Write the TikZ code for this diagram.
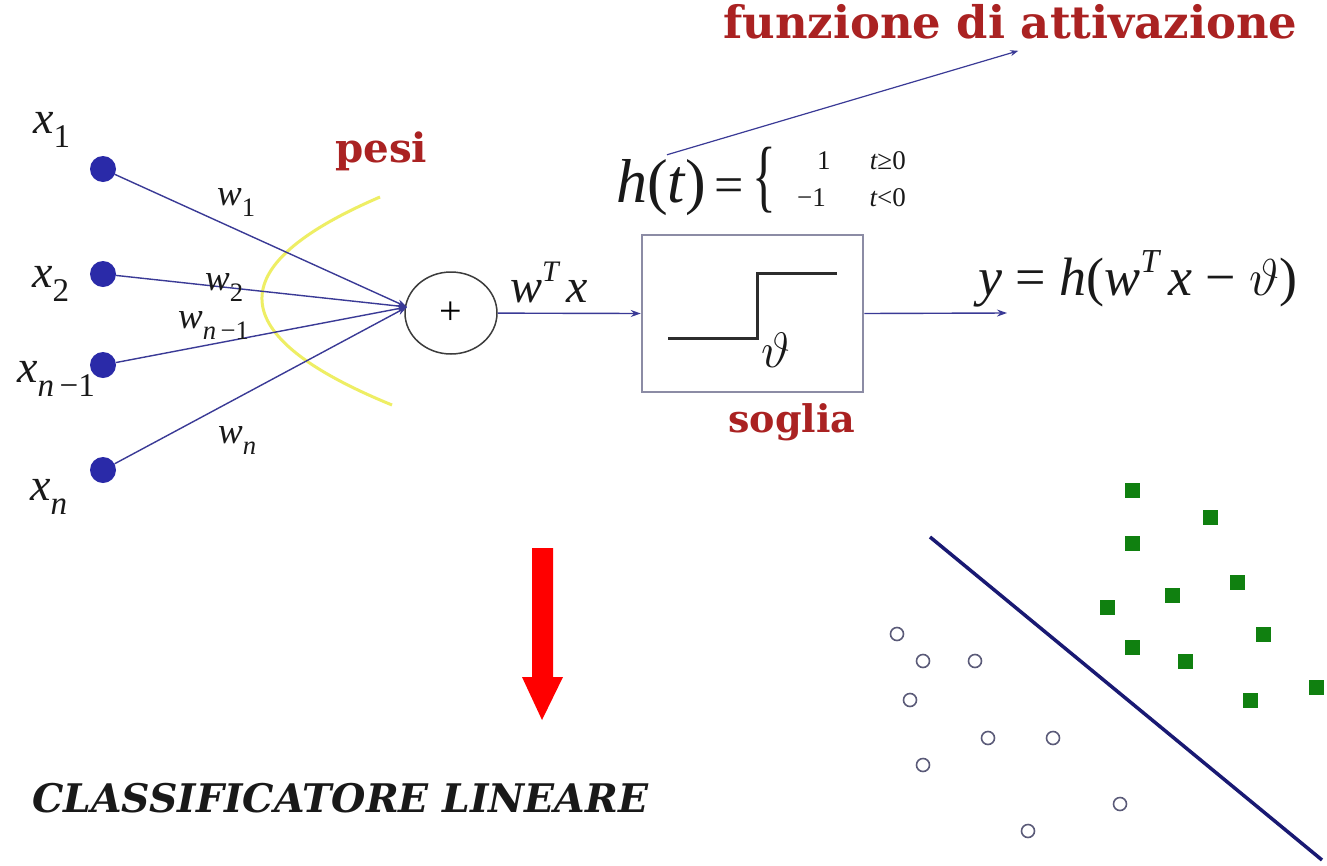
\documentclass[tikz,border=0pt]{standalone}
\usepackage{fontspec}
\setmainfont{Liberation Serif}
\newfontfamily\slab{DejaVu Serif}
\usepackage{graphicx}
\usetikzlibrary{arrows.meta,shapes.geometric}
\definecolor{lbl}{RGB}{170,34,34}
\definecolor{wire}{RGB}{58,58,150}
\definecolor{boxc}{RGB}{140,140,165}
\definecolor{stepc}{RGB}{45,45,45}
\definecolor{dotc}{RGB}{42,42,168}
\definecolor{sqc}{RGB}{16,128,16}
\definecolor{circc}{RGB}{90,90,120}
\definecolor{sepc}{RGB}{25,25,115}
\definecolor{yel}{RGB}{238,238,100}
\definecolor{ink}{RGB}{25,25,25}
\newcommand\fs[1]{\fontsize{#1}{#1}\selectfont}
\newcommand\dn[2][0.32em]{\raisebox{-#1}{\scalebox{0.72}{#2}}}
\newcommand\upp[1]{\raisebox{0.42em}{\scalebox{0.62}{#1}}}
\newcommand\bigtheta[1]{\scalebox{#1}{\fs{20}$\vartheta$}}
\tikzset{
  inp/.style={circle,fill=dotc,minimum size=26pt,inner sep=0pt},
  lab/.style={anchor=base west,inner sep=0pt,text=ink},
  redlab/.style={anchor=base west,inner sep=0pt,text=lbl},
  conn/.style={draw=wire,line width=1.4pt,-{Stealth[length=10pt,width=7pt]}},
  sq/.style={rectangle,fill=sqc,minimum size=15pt,inner sep=0pt},
  oc/.style={circle,draw=circc,line width=1.6pt,minimum size=13pt,inner sep=0pt},
}
\begin{document}
\begin{tikzpicture}[x=1pt,y=-1pt]
\fill[white] (0,0) rectangle (1327,865);
\useasboundingbox (0,0) rectangle (1327,865);

% yellow "pesi" curve
\draw[yel,line width=3pt] (380,197) .. controls (218.7,266.3) and (222.7,335.7) .. (392,405);

% inputs
\node[inp] (i1) at (103,169) {};
\node[inp] (i2) at (103,274) {};
\node[inp] (i3) at (103,365) {};
\node[inp] (i4) at (103,470) {};
\node[lab] (lx1) at (33,133) {\fs{46}\itshape x\dn{\upshape 1}};
\node[lab] (lx2) at (32,287) {\fs{46}\itshape x\dn{\upshape 2}};
\node[lab] (lx3) at (17,382) {\fs{46}\itshape x\dn{n\upshape\,−1}};
\node[lab] (lx4) at (30,500) {\fs{46}\itshape x\dn{n}};

% sum node
\node[ellipse,draw=ink!85,line width=1.5pt,minimum width=92pt,minimum height=82pt,inner sep=0pt] (sum) at (451,313) {\fs{40}+};
\coordinate (conv) at (407,307);
\draw[conn] (i1) -- (conv);
\draw[conn] (i2) -- (conv);
\draw[conn] (i3) -- (conv);
\draw[conn] (i4) -- (conv);

% weights
\node[lab] (w1) at (217,205) {\fs{37}\itshape w\dn{\upshape 1}};
\node[lab] (w2) at (205,290) {\fs{37}\itshape w\dn{\upshape 2}};
\node[lab] (w3) at (178,328) {\fs{37}\itshape w\dn{n\upshape\,−1}};
\node[lab] (w4) at (218,443) {\fs{37}\itshape w\dn{n}};
\node[redlab] (pesi) at (335,162) {\resizebox{92pt}{!}{\slab\bfseries pesi}};

% w^T x
\node[lab] (wtx) at (510,302) {\fs{48}\itshape w\upp{T}\,x};

% threshold box
\node[draw=boxc,line width=2.5pt,minimum width=221pt,minimum height=157pt,inner sep=0pt] (box) at (752.5,313.5) {};
\draw[stepc,line width=3pt] (668,338) -- (757,338) -- (757,273) -- (837,273);
\node[inner sep=0pt,text=ink] (theta) at (776,350) {\bigtheta{2.4}};
\node[redlab] (soglia) at (728,432) {\resizebox{127pt}{!}{\slab\bfseries soglia}};
\draw[conn] (sum) -- (box.west);

% output
\coordinate (yout) at (1007,313);
\draw[conn] (box.east) -- (yout);
\node[lab] (yeq) at (978,295) {\fs{54}\itshape y\upshape\ =\ \itshape h\upshape(\itshape w\upp{T}\,x\upshape\ −\ \bigtheta{2.5}\upshape)};

% activation function
\node[lab] (ht) at (616,202) {\fs{62}\itshape h\upshape(\itshape t\upshape)};
\node[anchor=base,inner sep=0pt,text=ink] (eq) at (729,202) {\fs{52}=};
\node[inner sep=0pt,text=ink] (brace) at (764,180) {\scalebox{1.3}[2.1]{\fs{38}\{}};
\node[lab] (c1) at (817,169) {\fs{27}1};
\node[anchor=base east,inner sep=0pt,text=ink] (c2) at (906,169) {\fs{27}\itshape t\upshape≥0};
\node[lab] (c3) at (797,206) {\fs{27}−1};
\node[anchor=base east,inner sep=0pt,text=ink] (c4) at (906,206) {\fs{27}\itshape t\upshape<0};
\node[redlab] (fun) at (723,38) {\resizebox{574pt}{!}{\slab\bfseries funzione di attivazione}};
\draw[draw=wire,line width=1.2pt,-{Stealth[length=8pt,width=6pt]}] ([xshift=6pt,yshift=4pt]ht.north) -- ([xshift=8pt,yshift=-12pt]fun.south);

% red arrow
\fill[red] (532,548) -- (553,548) -- (553,677) -- (563,677) -- (542,720) -- (522,677) -- (532,677) -- cycle;

% title
\node[lab] (title) at (32,812) {\resizebox{616pt}{!}{\slab\bfseries\itshape CLASSIFICATORE LINEARE}};

% scatter plot
\draw[sepc,line width=3.5pt] (930,537) -- (1322,860);
\foreach \p in {(1132,490),(1210,517),(1132,543),(1237,582),(1172,595),(1107,607),(1263,634),(1132,647),(1185,661),(1316,687),(1250,700)}
  \node[sq] at \p {};
\foreach \p in {(897,634),(923,661),(975,661),(910,700),(988,738),(1053,738),(923,765),(1120,804),(1028,831)}
  \node[oc] at \p {};
\end{tikzpicture}
\end{document}
